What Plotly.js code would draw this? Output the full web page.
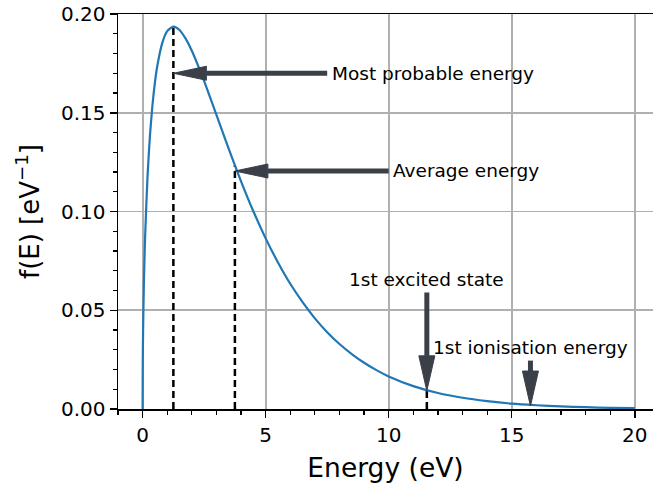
<!DOCTYPE html>
<html>
<head>
<meta charset="utf-8">
<script src="https://cdn.plot.ly/plotly-3.0.1.min.js"></script>
<style>html,body{margin:0;padding:0;background:#fff;}#chart{width:653px;height:487px;}</style>
</head>
<body>
<div id="chart"></div>
<script>
// Curve: energy (eV) and f(E) (eV^-1)
const energy = [0, 0.005, 0.01, 0.02, 0.05, 0.1, 0.2, 0.3, 0.4, 0.5, 0.6, 0.8, 1.0, 1.25, 1.5, 1.75, 2.0, 2.5, 3.0, 3.5, 4.0, 4.5, 5.0, 5.5, 6.0, 6.5, 7.0, 7.5, 8.0, 8.5, 9.0, 9.5, 10, 11, 12, 13, 14, 15, 16, 17, 18, 19, 20];
const fE = [0, 0.0201, 0.0284, 0.0400, 0.0626, 0.0867, 0.1178, 0.1387, 0.1538, 0.1653, 0.1739, 0.1854, 0.1913, 0.1936, 0.1919, 0.1875, 0.1814, 0.1660, 0.1489, 0.1317, 0.1153, 0.1001, 0.0864, 0.0742, 0.0634, 0.0541, 0.0459, 0.0389, 0.0329, 0.0278, 0.0234, 0.0197, 0.0165, 0.0116, 0.0081, 0.0057, 0.0040, 0.0027, 0.0019, 0.0013, 0.0009, 0.0006, 0.0004];

// Marked energies (eV) and curve heights there
const markLabels = ["Most probable energy", "Average energy", "1st excited state", "1st ionisation energy"];
const markE = [1.25, 3.75, 11.55, 15.76];
const markF = [0.1936, 0.1233, 0.0096, 0.0021];
// arrow tips and tails, text anchor points
const tipF = [0.17, 0.1205, 0.0092, 0.0015];
const tailE = [7.5, 10.0, 11.55, 15.76];
const tailF = [0.17, 0.1205, 0.059, 0.0245];
const textE = [7.6, 10.1, 11.55, 15.76];
const textF = [0.1697, 0.1208, 0.0658, 0.0313];

const xTicks = [0, 5, 10, 15, 20];
const yTicks = [0.00, 0.05, 0.10, 0.15, 0.20];

const arrowColor = '#3a3f48';
const font = 'DejaVu Sans, Liberation Sans, sans-serif';

const traces = [];
// dashed verticals for most probable, average, excited state
[0, 1, 2].forEach(i => {
  traces.push({
    x: [markE[i], markE[i]], y: [0, markF[i]],
    mode: 'lines', line: {color: 'black', width: 2.5, dash: '7px,4px'},
    hoverinfo: 'skip', showlegend: false
  });
});
traces.push({
  x: energy, y: fE, mode: 'lines',
  line: {color: '#1f77b4', width: 2.2, shape: 'spline', smoothing: 0.6},
  showlegend: false, name: 'f(E)'
});

// arrows as shapes (shaft + triangular head) in data coordinates
const pxX = 24.61, pxY = 1975; // pixels per unit, used for head size
const headLen = 33, headHalf = 7;
const shapes = [];
markE.forEach((e, i) => {
  const horizontal = i < 2;
  const tipX = e, tipY = tipF[i];
  let baseX, baseY, p1, p2;
  if (horizontal) {
    baseX = tipX + headLen / pxX; baseY = tipY;
    p1 = [baseX, tipY + headHalf / pxY];
    p2 = [baseX, tipY - headHalf / pxY];
  } else {
    baseX = tipX; baseY = tipY + (headLen + 2) / pxY;
    p1 = [tipX - (headHalf + 1) / pxX, baseY];
    p2 = [tipX + (headHalf + 1) / pxX, baseY];
  }
  shapes.push({type: 'line', xref: 'x', yref: 'y', x0: tailE[i], y0: tailF[i], x1: baseX, y1: baseY,
    line: {color: arrowColor, width: 5}, layer: 'above'});
  shapes.push({type: 'path', xref: 'x', yref: 'y',
    path: `M${tipX},${tipY} L${p1[0]},${p1[1]} L${p2[0]},${p2[1]} Z`,
    fillcolor: arrowColor, line: {color: arrowColor, width: 1}, layer: 'above'});
});

const annotations = markLabels.map((t, i) => ({
  x: textE[i], y: textF[i], xref: 'x', yref: 'y', text: t, showarrow: false,
  xanchor: i < 2 ? 'left' : 'center', yanchor: 'middle',
  font: {family: font, size: 18.5, color: 'black'}
}));

const layout = {
  width: 653, height: 487,
  margin: {l: 118, r: 0, t: 14, b: 78, pad: 0},
  paper_bgcolor: 'white', plot_bgcolor: 'white',
  font: {family: font, color: 'black'},
  showlegend: false,
  xaxis: {
    range: [-1, 20.74], tickvals: xTicks, ticktext: xTicks.map(String),
    ticks: 'outside', ticklen: 7, tickwidth: 1.5, tickcolor: 'black',
    showline: true, linecolor: 'black', linewidth: 1.5, mirror: true,
    showgrid: true, gridcolor: '#b0b0b0', gridwidth: 1.8, zeroline: false,
    tickfont: {family: font, size: 20, color: 'black'},
    minor: {dtick: 1, tick0: 0, ticks: 'outside', ticklen: 4, tickwidth: 1.2, tickcolor: 'black', showgrid: false},
    title: {text: 'Energy (eV)', font: {family: font, size: 26.5, color: 'black'}, standoff: 13}
  },
  yaxis: {
    range: [0, 0.2], tickvals: yTicks, ticktext: yTicks.map(v => v.toFixed(2)),
    ticks: 'outside', ticklen: 7, tickwidth: 1.5, tickcolor: 'black',
    showline: true, linecolor: 'black', linewidth: 1.5, mirror: false,
    showgrid: true, gridcolor: '#b0b0b0', gridwidth: 1.8, zeroline: false,
    tickfont: {family: font, size: 20, color: 'black'},
    minor: {dtick: 0.01, tick0: 0, ticks: 'outside', ticklen: 4, tickwidth: 1.2, tickcolor: 'black', showgrid: false},
    title: {text: 'f(E) [eV<sup>−1</sup>]', font: {family: font, size: 26, color: 'black'}, standoff: 14}
  },
  shapes: shapes,
  annotations: annotations
};

Plotly.newPlot('chart', traces, layout, {displayModeBar: false, staticPlot: true});
</script>
</body>
</html>
